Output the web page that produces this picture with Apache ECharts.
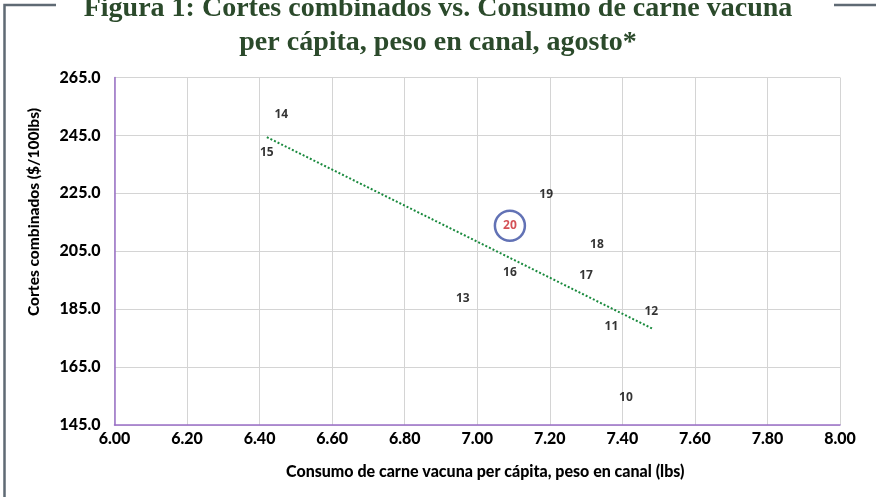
<!DOCTYPE html>
<html>
<head>
<meta charset="utf-8">
<script src="https://cdn.jsdelivr.net/npm/echarts@6/dist/echarts.min.js"></script>
<style>
html,body{margin:0;padding:0;background:#fff;}
#chart{width:876px;height:497px;}
</style>
</head>
<body>
<div id="chart"></div>
<script>
// Data
var years   = ['10','11','12','13','14','15','16','17','18','19','20'];
var consumo = [7.41, 7.37, 7.48, 6.96, 6.46, 6.42, 7.09, 7.30, 7.33, 7.19, 7.09];
var cortes  = [154.3, 179.0, 184.1, 188.6, 252.3, 239.0, 197.6, 196.5, 207.3, 224.5, 213.8];
var trendX  = [6.42, 7.484];
var trendY  = [244.4, 178.2];
var xTicks  = ['6.00','6.20','6.40','6.60','6.80','7.00','7.20','7.40','7.60','7.80','8.00'];
var yTicks  = ['145.0','165.0','185.0','205.0','225.0','245.0','265.0'];
var highlight = '20';

var chart = echarts.init(document.getElementById('chart'), null, {renderer:'canvas'});
var lblFont = 'Lato, "Liberation Sans", sans-serif';
var ptFont = '"Open Sans", "Liberation Sans", sans-serif';
var W = 900;

var normalPts = [], hiPts = [];
for (var i = 0; i < years.length; i++) {
  var p = {value:[consumo[i], cortes[i]], name: years[i]};
  if (years[i] === highlight) hiPts.push(p); else normalPts.push(p);
}
var trend = trendX.map(function(x, i){ return [x, trendY[i]]; });

var titleStyle = {fontFamily:'"Liberation Serif", serif', fontWeight:'bold', fontSize:28, color:'#2b4a2b'};
var option = {
  animation:false,
  backgroundColor:'#fff',
  title:[
    {text:'Figura 1: Cortes combinados vs. Consumo de carne vacuna', left:'center', top:-10, textStyle:titleStyle},
    {text:'per cápita, peso en canal, agosto*', left:'center', top:24, textStyle:titleStyle}
  ],
  graphic:[
    {type:'polyline', shape:{points:[[56,5],[4.5,5],[4.5,497]]}, style:{stroke:'#5f6a74', lineWidth:2.5, fill:null}},
    {type:'line', shape:{x1:834,y1:5,x2:876,y2:5}, style:{stroke:'#5f6a74', lineWidth:2.5}},
    {type:'text', x:34, y:212, rotation:Math.PI/2,
     style:{text:'Cortes combinados ($/100lbs)', fontFamily:lblFont, fontWeight:W, fontSize:15.5,
            fill:'#000', textAlign:'center', textVerticalAlign:'middle'}}
  ],
  grid:{left:114.5, right:36, top:77.5, bottom:72, containLabel:false},
  xAxis:{
    type:'value', min:6, max:8, interval:0.2,
    axisLine:{show:true, lineStyle:{color:'#9a6fc7', width:1.5}},
    axisTick:{show:false},
    splitLine:{show:true, lineStyle:{color:'#d4d4d4', width:1}},
    axisLabel:{margin:6, fontFamily:lblFont, fontWeight:W, fontSize:16, color:'#000',
      formatter:function(v){ var idx = Math.round((v-6)/0.2); return xTicks[idx] || v.toFixed(2); }},
    name:'Consumo de carne vacuna per cápita, peso en canal (lbs)',
    nameLocation:'middle', nameGap:39,
    nameTextStyle:{fontFamily:lblFont, fontWeight:W, fontSize:16, color:'#000', padding:[0,0,0,16]}
  },
  yAxis:{
    type:'value', min:145, max:265, interval:20,
    axisLine:{show:true, lineStyle:{color:'#9a6fc7', width:1.5}},
    axisTick:{show:false},
    splitLine:{show:true, lineStyle:{color:'#d4d4d4', width:1}},
    axisLabel:{margin:14, fontFamily:lblFont, fontWeight:W, fontSize:16, color:'#000',
      formatter:function(v){ var idx = Math.round((v-145)/20); return yTicks[idx] || v.toFixed(1); }}
  },
  series:[
    {type:'line', data:trend, symbol:'none', silent:true,
     lineStyle:{color:'#1a8a3e', width:2, type:[2,2]}, z:2},
    {type:'scatter', data:normalPts, symbolSize:1, itemStyle:{color:'rgba(0,0,0,0)'},
     label:{show:true, position:'inside', formatter:'{b}', fontFamily:ptFont, fontWeight:'bold', fontSize:12, color:'#000'}, z:3},
    {type:'scatter', data:hiPts, symbol:'circle', symbolSize:30,
     itemStyle:{color:'rgba(255,255,255,0)', borderColor:'#3b4fa3', borderWidth:2.5},
     label:{show:true, position:'inside', formatter:'{b}', fontFamily:ptFont, fontWeight:'bold', fontSize:12, color:'#c9252c'}, z:4}
  ]
};
chart.setOption(option);
</script>
</body>
</html>
